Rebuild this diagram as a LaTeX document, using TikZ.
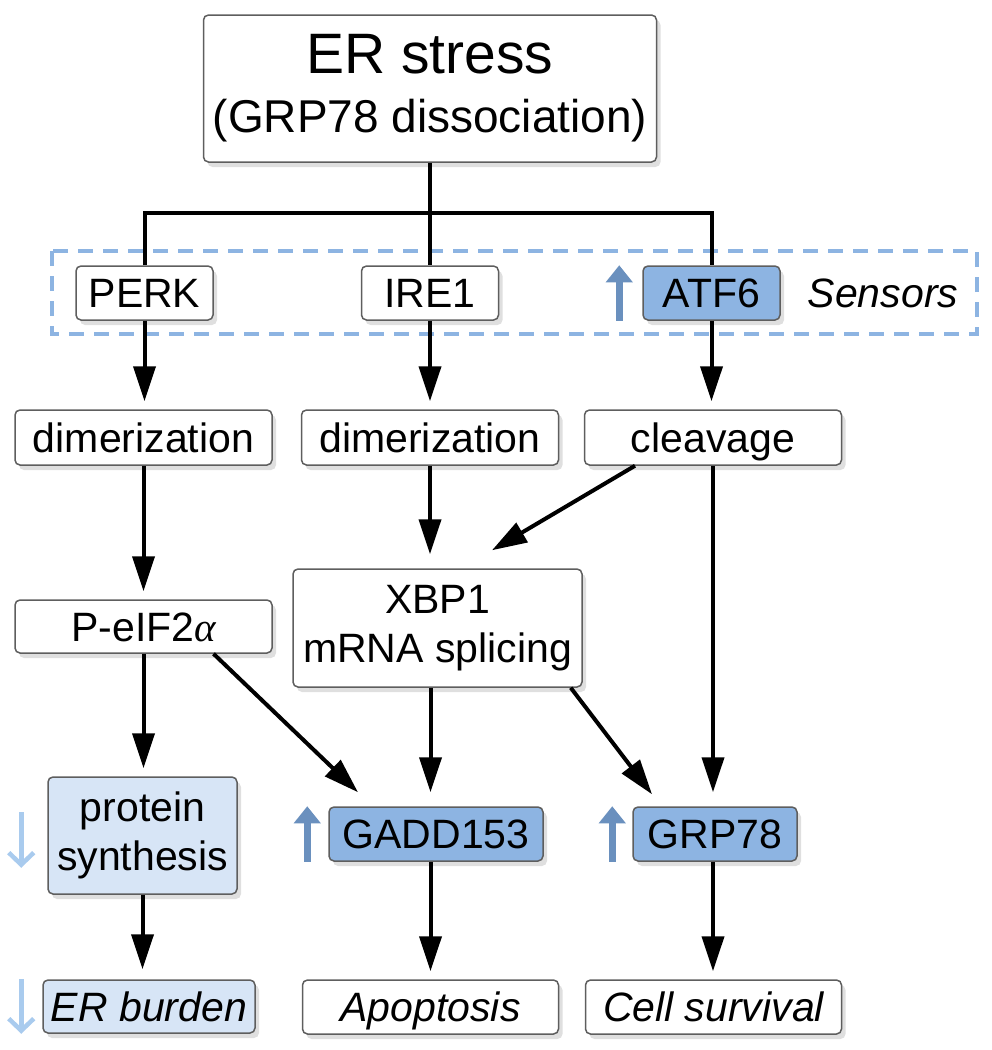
\documentclass[tikz,border=0pt]{standalone}
\usepackage{fontspec}
\setmainfont{Liberation Sans}
\newfontfamily\greekfont{Liberation Serif}
\usetikzlibrary{calc,arrows.meta,shadows}
\tikzset {>={Triangle[length=35pt,width=22pt]}}
\definecolor{hiblue}{HTML}{8DB4E2}
\definecolor{loblue}{HTML}{D7E5F6}
\definecolor{upblue}{HTML}{6A90BE}
\definecolor{downblue}{HTML}{A9CBEE}
\definecolor{rim}{HTML}{5E5E5E}
\tikzset{
  box/.style={draw=rim,line width=1.5pt,rounded corners=5pt,fill=white,
    inner sep=0pt,align=center,font=\fontsize{41}{49}\selectfont,
    drop shadow={shadow xshift=4pt,shadow yshift=-5pt,opacity=.25}},
  hibox/.style={box,fill=hiblue},
  lobox/.style={box,fill=loblue},
  single/.style={text height=31pt,text depth=2pt},
  wire/.style={line width=4pt},
  link/.style={wire,->},
  risearrow/.style={draw=upblue,line width=7pt,-{Triangle[length=17pt,width=26pt]}},
  fallarrow/.style={draw=downblue,line width=4.5pt,-{Straight Barb[length=12pt,width=25pt]}}
}
\begin{document}
\begin{tikzpicture}[x=1pt,y=-1pt]
\useasboundingbox (0,0) rectangle (992,1050);
\draw[draw=hiblue,line width=4pt,dash pattern=on 15pt off 10pt]
  (52,251) rectangle (977,334);
\node[box,minimum width=453pt,minimum height=147pt,
  font=\fontsize{46}{59}\selectfont] (top) at (430,88.5)
  {{\fontsize{57}{59}\selectfont ER stress}\\(GRP78 dissociation)};
\foreach \n/\x/\t in {perk/144.5/PERK,ire/430/IRE1}
  \node[box,single,minimum width=137pt,minimum height=54pt] (\n) at (\x,293) {\t};
\node[hibox,single,minimum width=137pt,minimum height=54pt] (atf) at (711.5,293) {ATF6};
\node[font=\fontsize{41}{49}\selectfont\itshape] (sens) at (883,293) {Sensors};
\foreach \n/\x/\t in {dimA/143.5/dimerization,dimB/430/dimerization,cleave/713/cleavage}
  \node[box,single,minimum width=257pt,minimum height=55pt] (\n) at (\x,437.5) {\t};
\node[box,single,minimum width=257pt,minimum height=53pt] (peif) at (143.5,626.5)
  {P-eIF2{\greekfont\itshape α}};
\node[box,minimum width=289pt,minimum height=118pt] (xbp) at (437.5,628)
  {XBP1\\mRNA splicing};
\node[lobox,minimum width=189pt,minimum height=117pt] (prot) at (142.5,835.5)
  {protein\\synthesis};
\node[hibox,single,minimum width=214pt,minimum height=54pt] (gadd) at (436,834) {GADD153};
\node[hibox,single,minimum width=164pt,minimum height=54pt] (grp) at (715,834) {GRP78};
\node[lobox,single,minimum width=212pt,minimum height=53pt] (burden) at (149,1006.5)
  {\itshape ER burden};
\foreach \n/\x/\t in {apop/430.5/Apoptosis,surv/713.5/Cell survival}
  \node[box,single,minimum width=256pt,minimum height=54pt] (\n) at (\x,1007) {\itshape \t};
% fork under ER stress
\coordinate (fork) at (430,213);
\draw[wire] (top.south) -- (fork);
\draw[wire] (perk.north) |- (fork) -| (atf.north);
\draw[wire] (fork) -- (ire.north);
% straight arrows
\foreach \a/\b in {perk/dimA,ire/dimB,atf/cleave,dimA/peif,peif/prot}
  \draw[link,shorten >=8pt] (\a.south) -- (\a.south |- \b.north);
\draw[link,shorten >=14pt] (dimB.south) -- (dimB.south |- xbp.north);
\draw[link,shorten >=14pt] (apop.north |- xbp.south) -- (apop.north |- gadd.north);
\draw[link,shorten >=8pt] (apop.north |- gadd.south) -- (apop.north);
\draw[link,shorten >=14pt] (cleave.south) -- (cleave.south |- grp.north);
\draw[link,shorten >=8pt] (cleave.south |- grp.south) -- (cleave.south |- surv.north);
\draw[link,shorten >=10pt] (prot.south) -- (prot.south |- burden.north);
% slanted arrows
\draw[link] ([xshift=-78pt]cleave.south) -- ([xshift=54.5pt,yshift=18pt]xbp.north);
\draw[link] ([xshift=70pt]peif.south) -- ([xshift=-78pt,yshift=14pt]gadd.north);
\draw[link] ([xshift=-12pt]xbp.south east) -- ([xshift=-63pt,yshift=12pt]grp.north);
% up / down marks
\draw[risearrow] ([xshift=-23pt]atf.south west) -- ([xshift=-23pt]atf.north west);
\draw[risearrow] ([xshift=-21pt]gadd.south west) -- ([xshift=-21pt]gadd.north west);
\draw[risearrow] ([xshift=-20pt]grp.south west) -- ([xshift=-20pt]grp.north west);
\draw[fallarrow] ([xshift=-26pt,yshift=-36pt]prot.north west)
  -- ([xshift=-26pt,yshift=27pt]prot.south west);
\draw[fallarrow] ([xshift=-21pt]burden.north west) -- ([xshift=-21pt]burden.south west);
\end{tikzpicture}
\end{document}
